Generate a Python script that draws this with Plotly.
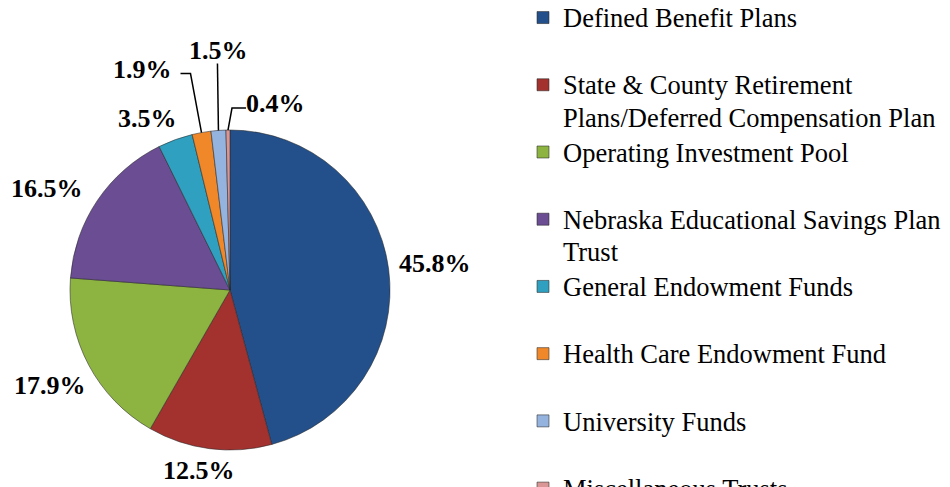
import math
import plotly.graph_objects as go

W, H = 950, 487
PAGE_OFF = 8  # the html body margin moves the figure by this many pixels

# data
categories = ['Defined Benefit Plans',
              'State & County Retirement Plans/Deferred Compensation Plan',
              'Operating Investment Pool',
              'Nebraska Educational Savings Plan Trust',
              'General Endowment Funds',
              'Health Care Endowment Fund',
              'University Funds',
              'Miscellaneous Trusts']
shares = [45.8, 12.5, 17.9, 16.5, 3.5, 1.9, 1.5, 0.4]
share_labels = ['45.8%', '12.5%', '17.9%', '16.5%', '3.5%', '1.9%', '1.5%', '0.4%']

# legend text as wrapped in the original (second line blank when unused)
legend_text = ['Defined Benefit Plans<br> ',
               'State & County Retirement<br>Plans/Deferred Compensation Plan',
               'Operating Investment Pool<br> ',
               'Nebraska Educational Savings Plan<br>Trust',
               'General Endowment Funds<br> ',
               'Health Care Endowment Fund<br> ',
               'University Funds<br> ',
               'Miscellaneous Trusts<br> ']

colors = ['#23508A', '#A3312E', '#8DB440', '#6A4D93',
          '#2FA0C0', '#F0882A', '#95B3DF', '#D99694']

# pie geometry (page pixels)
CX, CY, R = 230, 290, 160
# label offset from the middle of each slice's rim, and leader lines
# (elbow points, same reference) for the thin slices
label_off = [(46, -5), (-10, 22), (-39, 21), (-50, -12), (-28, -21),
             (-59, -63), (0, -80), (48, -27)]
leaders = {5: [(-11, -59), (-21, -59)],
           6: [(-1, -67)],
           7: [(4, -22), (18, -22)]}

FONT = 'Times New Roman, Liberation Serif, serif'


def fx(p):
    return (p - PAGE_OFF) / W


def fy(p):
    return 1 - (p - PAGE_OFF) / H


fig = go.Figure()
fig.add_trace(go.Pie(
    labels=['<span style="font-size:26.5px">%s</span>' % t for t in legend_text],
    values=shares, sort=False, direction='clockwise', rotation=0,
    textinfo='none', hoverinfo='skip',
    marker=dict(colors=colors, line=dict(color='rgba(40,40,40,0.55)', width=1)),
    domain=dict(x=[fx(CX - R), fx(CX + R)], y=[fy(CY + R), fy(CY - R)])))

total = sum(shares)
start = 0.0
annotations = []
shapes = []
for i, v in enumerate(shares):
    mid = math.radians((start + v / 2) / total * 360)
    start += v
    # point on the rim in the middle of the slice
    ex, ey = CX + R * math.sin(mid), CY - R * math.cos(mid)
    if i in leaders:
        path = 'M %f,%f' % (fx(ex), fy(ey))
        for dx, dy in leaders[i]:
            path += ' L %f,%f' % (fx(ex + dx), fy(ey + dy))
        shapes.append(dict(type='path', path=path, xref='paper', yref='paper',
                           line=dict(color='black', width=1.5)))
    lx, ly = ex + label_off[i][0], ey + label_off[i][1]
    annotations.append(dict(x=fx(lx), y=fy(ly), xref='paper', yref='paper',
                            text='<b>%s</b>' % share_labels[i], showarrow=False,
                            xanchor='center', yanchor='middle',
                            font=dict(family=FONT, size=26, color='black')))

fig.update_layout(
    width=W, height=H, margin=dict(l=0, r=0, t=0, b=0, autoexpand=False),
    paper_bgcolor='white', plot_bgcolor='white',
    annotations=annotations, shapes=shapes,
    showlegend=True,
    legend=dict(x=fx(523), y=fy(-5), xanchor='left', yanchor='top', valign='top',
                font=dict(family=FONT, size=24.7, color='black'),
                bgcolor='rgba(0,0,0,0)', maxheight=1000))

fig.write_html("out.html")
